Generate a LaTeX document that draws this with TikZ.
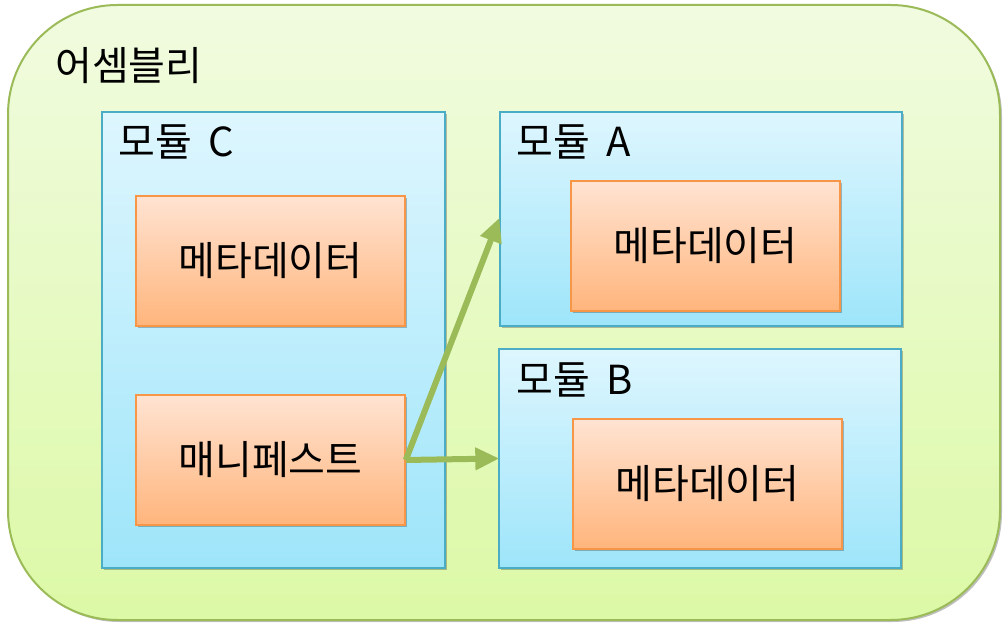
\documentclass[tikz,border=0pt]{standalone}
\usepackage{fontspec}
\setmainfont{Noto Sans CJK KR}
\usetikzlibrary{arrows.meta,shadows}
\definecolor{asmline}{HTML}{9BBB59}
\definecolor{asmtop}{HTML}{F1FBE0}
\definecolor{asmbot}{HTML}{DCF9A6}
\definecolor{modline}{HTML}{4BACC6}
\definecolor{modtop}{HTML}{DEF6FE}
\definecolor{modbot}{HTML}{9EE5FA}
\definecolor{orline}{HTML}{F79646}
\definecolor{ortop}{HTML}{FFE3D2}
\definecolor{orbot}{HTML}{FFB57C}
\tikzset{
  shad/.style={drop shadow={shadow xshift=1.5pt,shadow yshift=-1.5pt,opacity=0.25,fill=black}},
  asmbox/.style={draw=asmline,line width=1.5pt,top color=asmtop,bottom color=asmbot,rounded corners=82pt,minimum width=744pt,minimum height=461.25pt,inner sep=0pt,shad},
  modbox/.style={draw=modline,line width=1.5pt,top color=modtop,bottom color=modbot,minimum width=301.5pt,inner sep=0pt,shad},
  orbox/.style={draw=orline,line width=1.2pt,top color=ortop,bottom color=orbot,minimum width=201.75pt,minimum height=97.5pt,inner sep=0pt,font=\fontsize{30}{34}\selectfont,shad},
  lbl/.style={anchor=base west,inner sep=0pt,font=\fontsize{30}{34}\selectfont},
  conn/.style={draw=asmline,line width=4.5pt,-{Triangle[length=18pt,width=16pt]},shorten >=-1pt}
}
\begin{document}
\begin{tikzpicture}[x=0.75pt,y=-0.75pt]
\useasboundingbox (0,0) rectangle (1008,631);
\node[asmbox] (asm) at (504,312.5) {};
\node[lbl] (asmlbl) at (55,81) {어셈블리};
\node[modbox,minimum width=257.25pt,minimum height=342pt] (modC) at (273.5,340) {};
\node[modbox,minimum height=160.5pt] (modA) at (701,219) {};
\node[modbox,minimum height=164.25pt] (modB) at (700,458.5) {};
\node[lbl] (lblC) at (118,157) {모듈\hspace{0.2em} C};
\node[lbl] (lblA) at (516,157) {모듈\hspace{0.2em} A};
\node[lbl] (lblB) at (516,394) {모듈\hspace{0.2em} B};
\node[orbox] (metaC) at (270.5,261) {메타데이터};
\node[orbox] (man) at (270.5,460) {매니페스트};
\node[orbox] (metaA) at (705.5,246) {메타데이터};
\node[orbox] (metaB) at (707.5,484) {메타데이터};
\draw[conn] (man.east) -- (modA.west);
\draw[conn] (man.east) -- (modB.west);
\end{tikzpicture}
\end{document}
